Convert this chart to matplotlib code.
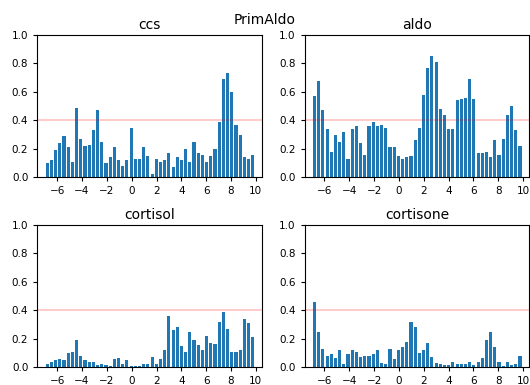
import numpy as np
import matplotlib
matplotlib.use('Agg')
import matplotlib.pyplot as plt

# bin centres (50 bins)
x = np.linspace(-6.8, 9.75, 50)

ccs = [0.10, 0.12, 0.19, 0.24, 0.29, 0.21, 0.11, 0.49, 0.27, 0.22,
       0.23, 0.33, 0.47, 0.25, 0.10, 0.14, 0.21, 0.12, 0.08, 0.12,
       0.35, 0.13, 0.13, 0.21, 0.15, 0.02, 0.13, 0.11, 0.12, 0.17,
       0.07, 0.14, 0.12, 0.20, 0.11, 0.25, 0.17, 0.16, 0.11, 0.15,
       0.20, 0.39, 0.69, 0.73, 0.60, 0.37, 0.30, 0.14, 0.13, 0.16]
aldo = [0.57, 0.68, 0.47, 0.34, 0.18, 0.30, 0.25, 0.32, 0.13, 0.34,
        0.36, 0.24, 0.16, 0.36, 0.39, 0.36, 0.37, 0.35, 0.21, 0.21,
        0.15, 0.13, 0.14, 0.15, 0.26, 0.35, 0.58, 0.77, 0.85, 0.81,
        0.48, 0.44, 0.34, 0.34, 0.54, 0.55, 0.56, 0.69, 0.55, 0.17,
        0.17, 0.18, 0.14, 0.26, 0.16, 0.27, 0.44, 0.50, 0.33, 0.22]
cortisol = [0.02, 0.04, 0.05, 0.06, 0.05, 0.10, 0.11, 0.19, 0.08, 0.05,
            0.04, 0.04, 0.015, 0.025, 0.015, 0.01, 0.06, 0.065, 0.02, 0.05,
            0.01, 0.01, 0.01, 0.02, 0.02, 0.07, 0.02, 0.06, 0.12, 0.36,
            0.26, 0.28, 0.15, 0.11, 0.25, 0.19, 0.16, 0.12, 0.22, 0.17,
            0.165, 0.32, 0.39, 0.27, 0.11, 0.11, 0.12, 0.34, 0.31, 0.21]
cortisone = [0.46, 0.245, 0.13, 0.08, 0.095, 0.065, 0.12, 0.02, 0.095, 0.12,
             0.105, 0.07, 0.08, 0.08, 0.09, 0.12, 0.03, 0.025, 0.13, 0.06,
             0.12, 0.14, 0.18, 0.32, 0.285, 0.10, 0.12, 0.17, 0.07, 0.03,
             0.025, 0.015, 0.015, 0.035, 0.025, 0.02, 0.02, 0.035, 0.015, 0.04,
             0.065, 0.19, 0.245, 0.14, 0.035, 0.01, 0.035, 0.015, 0.025, 0.08]

names = ['ccs', 'aldo', 'cortisol', 'cortisone']
series = [ccs, aldo, cortisol, cortisone]
threshold = 0.4

plt.rcParams['xtick.labelsize'] = 7.5
plt.rcParams['ytick.labelsize'] = 7.5
plt.rcParams['xtick.major.size'] = 3
plt.rcParams['ytick.major.size'] = 3

fig, axes = plt.subplots(2, 2, figsize=(5.3, 3.85), dpi=100)
fig.subplots_adjust(left=0.0704, right=0.9987, top=0.909, bottom=0.046,
                    wspace=0.189, hspace=0.335)

for ax, name, vals in zip(axes.flat, names, series):
    ax.bar(x, vals, width=0.25)
    ax.axhline(threshold, color='red', alpha=0.2)
    ax.set_ylim(0, 1)
    ax.set_xlim(-7.6, 10.5)
    ax.set_xticks(np.arange(-6, 11, 2))
    ax.set_title(name, fontsize=10, pad=4.5)

fig.suptitle('PrimAldo', y=0.966, fontsize=10)
fig.savefig('out.png')
